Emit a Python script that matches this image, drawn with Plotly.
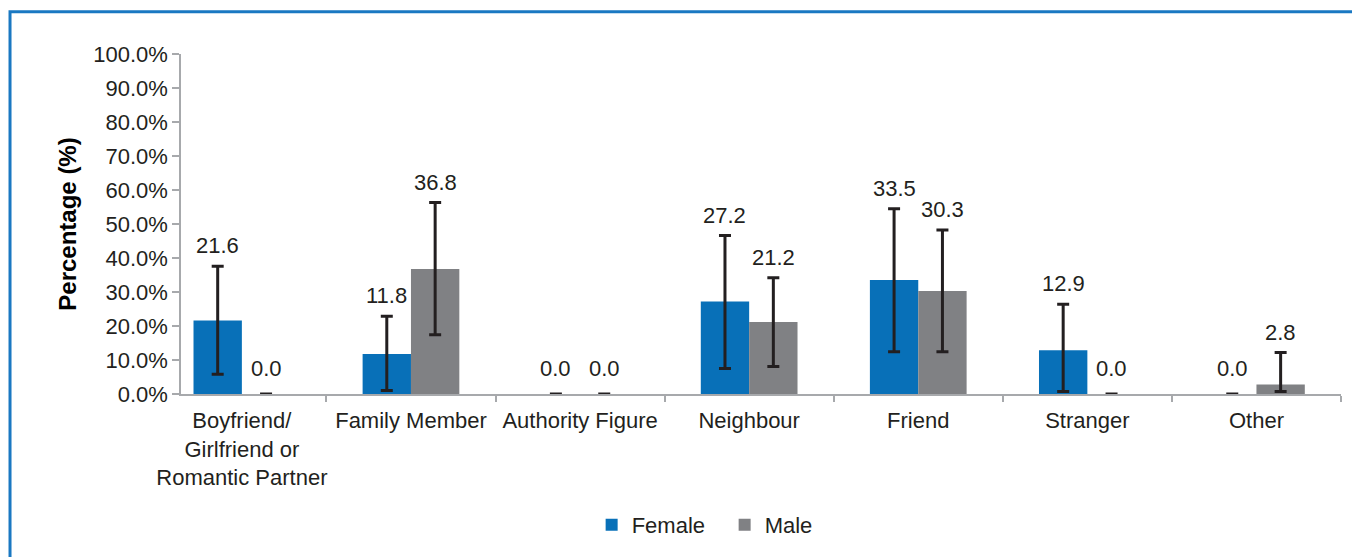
import plotly.graph_objects as go

categories = ["Boyfriend/<br>Girlfriend or<br>Romantic Partner", "Family Member", "Authority Figure",
              "Neighbour", "Friend", "Stranger", "Other"]
female = [21.6, 11.8, 0.0, 27.2, 33.5, 12.9, 0.0]
female_low = [5.8, 1.0, 0.0, 7.5, 12.4, 0.7, 0.0]
female_high = [37.6, 22.9, 0.0, 46.6, 54.5, 26.4, 0.0]
male = [0.0, 36.8, 0.0, 21.2, 30.3, 0.0, 2.8]
male_low = [0.0, 17.4, 0.0, 8.1, 12.4, 0.0, 0.7]
male_high = [0.0, 56.3, 0.0, 34.2, 48.2, 0.0, 12.2]
y_ticks = [0, 10, 20, 30, 40, 50, 60, 70, 80, 90, 100]

FONT = "Liberation Sans, Arial, sans-serif"
TXT = "#231F20"
AXIS = "#A7A9AC"
x = list(range(len(categories)))

fig = go.Figure()
for name, vals, lo, hi, col in [("Female", female, female_low, female_high, "#0870B8"),
                                ("Male", male, male_low, male_high, "#808184")]:
    fig.add_trace(go.Bar(
        x=x, y=vals, name=name, marker=dict(color=col, line=dict(width=0)),
        error_y=dict(type="data", symmetric=False,
                     array=[h - v for h, v in zip(hi, vals)],
                     arrayminus=[v - l for v, l in zip(vals, lo)],
                     color="#231F20", thickness=3, width=6),
    ))

# value labels sit above the upper error bar
ann = []
for off, vals, hi in [(-0.143, female, female_high), (0.143, male, male_high)]:
    for i, (v, h) in enumerate(zip(vals, hi)):
        ann.append(dict(x=i + off, y=h, text=f"{v:.1f}", showarrow=False,
                        yanchor="bottom", yshift=11 if h == 0 else 6,
                        font=dict(size=22, color=TXT, family=FONT)))

# the page body has an 8px margin, so the figure is 8px smaller than the window
fig.update_layout(
    width=1352, height=549,
    margin=dict(l=173, r=19, t=46, b=162),
    paper_bgcolor="white", plot_bgcolor="white",
    barmode="group", bargap=0.428, bargroupgap=0,
    font=dict(family=FONT, size=22, color=TXT),
    annotations=ann,
    showlegend=True,
    legend=dict(orientation="h", x=0.354, xanchor="left", y=-0.381, yanchor="middle",
                font=dict(size=22, color=TXT), entrywidth=88, traceorder="normal"),
    shapes=[dict(type="rect", xref="paper", yref="paper",
                 x0=-0.1474, x1=1.03, y0=-0.55, y1=1.1246,
                 line=dict(color="#1A78C2", width=3), layer="below")],
)
fig.update_xaxes(
    range=[-0.36, 6.5], tickvals=x, ticktext=categories, tickangle=0, ticklabelstandoff=6,
    ticks="", showline=True, linecolor=AXIS, linewidth=1.5, showgrid=False, zeroline=False,
    minor=dict(tickvals=[i + 0.5 for i in x], ticks="outside", ticklen=6, tickcolor=AXIS, tickwidth=1.5),
    tickfont=dict(size=22, color=TXT),
)
fig.update_yaxes(
    range=[0, 100], tickvals=y_ticks, ticktext=[f"{t:.1f}%" for t in y_ticks],
    ticks="outside", ticklen=7, tickcolor=AXIS, tickwidth=1.5,
    showline=True, linecolor=AXIS, linewidth=1.5, showgrid=False, zeroline=False,
    tickfont=dict(size=22, color=TXT),
    title=dict(text="Percentage (%)", font=dict(size=24, color="#000000", weight="bold"), standoff=10),
)

fig.write_html("out.html")
